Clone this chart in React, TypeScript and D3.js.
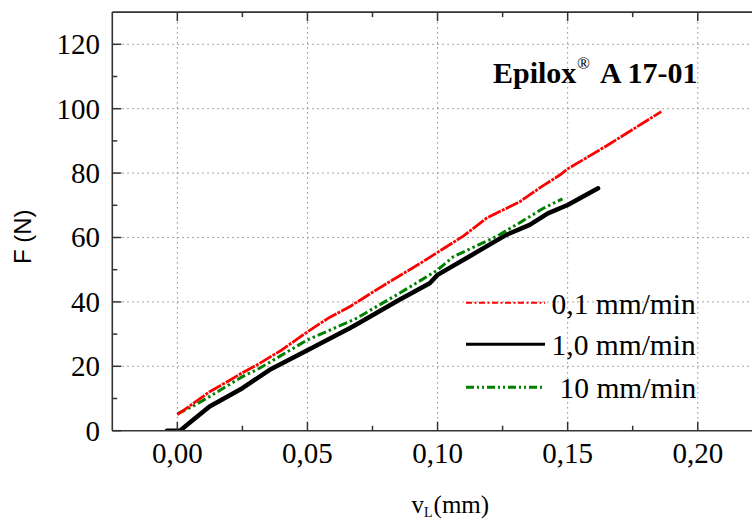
import React from 'react';
import * as d3 from 'd3';

// ---- data ----
const xTickValues = [0, 0.05, 0.1, 0.15, 0.2];
const xTickLabels = ['0,00', '0,05', '0,10', '0,15', '0,20'];
const xMinorTicks = [0.025, 0.075, 0.125, 0.175];
const yTickValues = [0, 20, 40, 60, 80, 100, 120];
const yTickLabels = ['0', '20', '40', '60', '80', '100', '120'];
const yMinorTicks = [10, 30, 50, 70, 90, 110];

const seriesNames = ['0,1 mm/min', '1,0 mm/min', '10 mm/min'];

// 0,1 mm/min (red)
const redV = [0, 0.006, 0.0124, 0.02, 0.025, 0.0316, 0.04, 0.05, 0.0579, 0.0662, 0.08, 0.0944, 0.1, 0.11, 0.1188, 0.1316, 0.14, 0.147, 0.15, 0.165, 0.186];
const redF = [5.0, 8.4, 12.1, 15.6, 18.0, 20.9, 25.0, 30.7, 34.9, 38.5, 45.5, 52.5, 55.4, 60.5, 66.0, 71.1, 75.8, 79.4, 81.3, 88.5, 99.1];

// 1,0 mm/min (black)
const blackV = [-0.004, 0.001, 0.006, 0.0124, 0.025, 0.0355, 0.05, 0.0662, 0.07, 0.085, 0.097, 0.1, 0.113, 0.1264, 0.1354, 0.1424, 0.15, 0.1617];
const blackF = [0, 0, 3.3, 7.5, 13.2, 18.9, 25.0, 31.8, 33.5, 40.5, 45.8, 48.4, 54.5, 60.8, 63.9, 67.5, 70.1, 75.3];

// 10 mm/min (green)
const greenV = [0, 0.006, 0.0124, 0.025, 0.0316, 0.05, 0.0662, 0.0688, 0.085, 0.097, 0.1, 0.106, 0.1226, 0.1316, 0.1405, 0.148];
const greenF = [5.2, 7.6, 10.6, 16.8, 19.4, 28.2, 33.9, 34.9, 42.5, 48.4, 49.9, 54.0, 60.3, 64.6, 69.0, 72.0];

const titleMain = 'Epilox';
const titleSup = '®';
const titleRest = 'A 17-01';
const xTitleMain = 'v';
const xTitleSub = 'L';
const xTitleUnit = '(mm)';
const yTitle = 'F (N)';

const W = 752;
const H = 519;
const serif = "'Liberation Serif', 'Times New Roman', serif";
const sans = "'Liberation Sans', Arial, sans-serif";

export default function App() {
  const x = d3.scaleLinear().domain([-0.025, 0.225]).range([112.3, 762.8]);
  const y = d3.scaleLinear().domain([0, 130]).range([430.7, 12.1]);
  const x0 = x(-0.025);
  const yTop = y(130);
  const yBot = y(0);

  const line = d3
    .line<[number, number]>()
    .x((d) => x(d[0]))
    .y((d) => y(d[1]));

  const red = redV.map((v, i) => [v, redF[i]] as [number, number]);
  const black = blackV.map((v, i) => [v, blackF[i]] as [number, number]);
  const green = greenV.map((v, i) => [v, greenF[i]] as [number, number]);

  const axisColor = '#333';
  const gridColor = '#8a8a8a';

  const legendRows = [
    { name: seriesNames[0], color: '#ff0000', width: 2, dash: '6 2.5 2 2.5', y: 302.7, tx: 551.5 },
    { name: seriesNames[1], color: '#000000', width: 3, dash: undefined, y: 344.3, tx: 551.5 },
    { name: seriesNames[2], color: '#008000', width: 3, dash: '8 3 2 3 2 3', y: 387.3, tx: 559.5 },
  ];

  return (
    <svg
      width={W}
      height={H}
      viewBox={`0 0 ${W} ${H}`}
      style={{ position: 'absolute', left: 0, top: 0, background: '#fff' }}
    >
      <rect x={0} y={0} width={W} height={H} fill="#fff" />
      <defs>
        <clipPath id="plotClip">
          <rect x={x0} y={yTop} width={W - x0} height={yBot - yTop} />
        </clipPath>
      </defs>

      {/* grid */}
      <g stroke={gridColor} strokeWidth={1} strokeDasharray="1.5 3.5">
        {xTickValues.map((v) => (
          <line key={'gx' + v} x1={x(v)} x2={x(v)} y1={yTop} y2={yBot} />
        ))}
        {yTickValues
          .filter((v) => v > 0)
          .map((v) => (
            <line key={'gy' + v} x1={x0} x2={W} y1={y(v)} y2={y(v)} />
          ))}
      </g>

      {/* data */}
      <g clipPath="url(#plotClip)" fill="none" strokeLinejoin="round">
        <path d={line(black) || ''} stroke="#000" strokeWidth={4.5} strokeLinecap="round" />
        <path d={line(green) || ''} stroke="#008000" strokeWidth={3} strokeDasharray="9 3 2.5 3 2.5 3" />
        <path d={line(red) || ''} stroke="#ff0000" strokeWidth={2.8} strokeDasharray="14 1.2 3 1.2" />
      </g>

      {/* frame */}
      <g stroke={axisColor} strokeWidth={1.6}>
        <line x1={x0} x2={x0} y1={yTop} y2={yBot} />
        <line x1={x0} x2={W} y1={yBot} y2={yBot} />
        <line x1={x0} x2={W} y1={yTop} y2={yTop} />
      </g>

      {/* ticks */}
      <g stroke={axisColor} strokeWidth={1.5}>
        {xTickValues.map((v) => (
          <g key={'tx' + v}>
            <line x1={x(v)} x2={x(v)} y1={yBot} y2={yBot - 9} />
            <line x1={x(v)} x2={x(v)} y1={yTop} y2={yTop + 9} />
          </g>
        ))}
        {xMinorTicks.map((v) => (
          <g key={'mx' + v}>
            <line x1={x(v)} x2={x(v)} y1={yBot} y2={yBot - 5} />
            <line x1={x(v)} x2={x(v)} y1={yTop} y2={yTop + 5} />
          </g>
        ))}
        {yTickValues.map((v) => (
          <line key={'ty' + v} x1={x0} x2={x0 + 9} y1={y(v)} y2={y(v)} />
        ))}
        {yMinorTicks.map((v) => (
          <line key={'my' + v} x1={x0} x2={x0 + 5} y1={y(v)} y2={y(v)} />
        ))}
      </g>

      {/* tick labels */}
      <g fontFamily={serif} fontSize={29} fill="#000">
        {xTickValues.map((v, i) => (
          <text key={'lx' + v} x={x(v)} y={462.8} textAnchor="middle">
            {xTickLabels[i]}
          </text>
        ))}
        {yTickValues.map((v, i) => (
          <text key={'ly' + v} x={100} y={y(v) + 9.8} textAnchor="end">
            {yTickLabels[i]}
          </text>
        ))}
      </g>

      {/* axis titles */}
      <text
        fontFamily={sans}
        fontSize={24}
        textAnchor="middle"
        transform={`translate(30.5, 236.7) rotate(-90)`}
      >
        {yTitle}
      </text>
      <text fontFamily={serif} fontSize={25} x={411.5} y={513}>
        {xTitleMain}
        <tspan fontSize={14} dy={4}>{xTitleSub}</tspan>
        <tspan fontSize={25} dy={-4} dx={1}>{xTitleUnit}</tspan>
      </text>

      {/* chart title */}
      <g fontFamily={serif} fontWeight="bold" fill="#000">
        <text x={493} y={83.3} fontSize={30}>
          {titleMain}
        </text>
        <text x={577} y={69} fontSize={17} fontWeight="normal">
          {titleSup}
        </text>
        <text x={600} y={83.3} fontSize={30}>
          {titleRest}
        </text>
      </g>

      {/* legend */}
      <g>
        {legendRows.map((r) => (
          <g key={r.name}>
            <line
              x1={466}
              x2={545}
              y1={r.y}
              y2={r.y}
              stroke={r.color}
              strokeWidth={r.width}
              strokeDasharray={r.dash}
            />
            <text x={r.tx} y={r.y + 10.8} fontFamily={serif} fontSize={29.5} fill="#000">
              {r.name}
            </text>
          </g>
        ))}
      </g>
    </svg>
  );
}
